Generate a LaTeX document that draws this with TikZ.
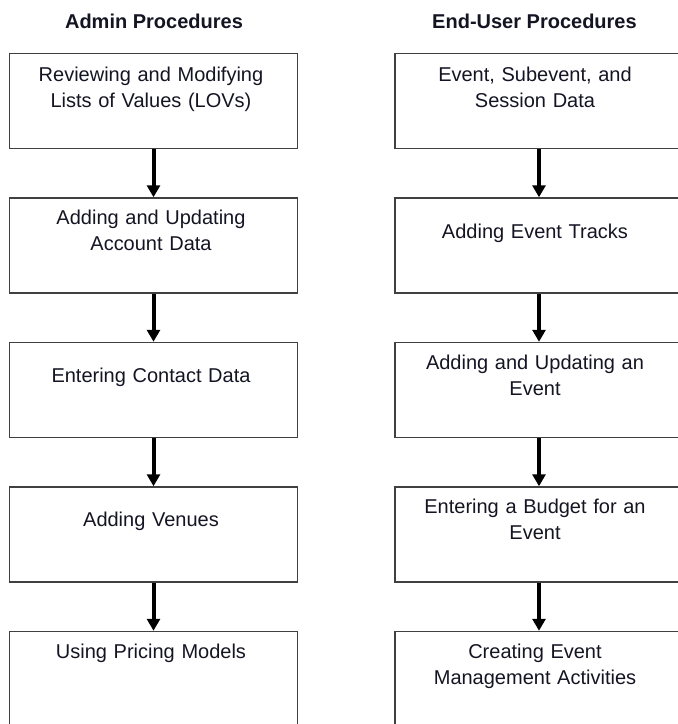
\documentclass[tikz,border=0pt]{standalone}
\usepackage{fontspec}
\setmainfont{Liberation Sans}
\usetikzlibrary{arrows.meta}
\definecolor{box_gray}{RGB}{64,64,64}
\definecolor{text_dark}{RGB}{20,20,35}

\begin{document}
\begin{tikzpicture}[x=1pt,y=-1pt,>={Triangle[length=12pt,width=13pt]}]
    \tikzstyle{box}=[draw=box_gray, line width=1.5pt, rectangle, minimum width=288pt, minimum height=95pt, inner sep=0pt]
    \tikzstyle{txt}=[anchor=base, text width=284pt, align=center, inner sep=0pt, text=text_dark, font=\fontsize{20}{26}\selectfont]
    \tikzstyle{head}=[anchor=base, inner sep=0pt, text=text_dark, font=\fontsize{20}{26}\selectfont\bfseries]
    \tikzstyle{flow}=[->, line width=4pt, black]

    \useasboundingbox (0,0) rectangle (678,724);

    % headings
    \node[head] (hadm) at (154,28)   {Admin Procedures};
    \node[head] (husr) at (534.5,28) {End-User Procedures};

    % admin column
    \node[box] (a1) at (153.5,101)   {};
    \node[box] (a2) at (153.5,245.5) {};
    \node[box] (a3) at (153.5,390)   {};
    \node[box] (a4) at (153.5,534.5) {};
    \node[box] (a5) at (153.5,679)   {};
    \node[txt] (a1t) at ([xshift=-2.5pt,yshift=-28.5pt]a1.north) {Reviewing and Modifying\\Lists of Values (LOVs)};
    \node[txt] (a2t) at ([xshift=-2.5pt,yshift=-27.5pt]a2.north) {Adding and Updating\\Account Data};
    \node[txt] (a3t) at ([xshift=-2.5pt,yshift=-41pt]a3.north)   {Entering Contact Data};
    \node[txt] (a4t) at ([xshift=-2.5pt,yshift=-40.5pt]a4.north) {Adding Venues};
    \node[txt] (a5t) at ([xshift=-2.5pt,yshift=-28pt]a5.north)   {Using Pricing Models};

    % end-user column
    \node[box] (e1) at (539,101)   {};
    \node[box] (e2) at (539,245.5) {};
    \node[box] (e3) at (539,390)   {};
    \node[box] (e4) at (539,534.5) {};
    \node[box] (e5) at (539,679)   {};
    \node[txt] (e1t) at ([xshift=-4pt,yshift=-28.5pt]e1.north) {Event, Subevent, and\\Session Data};
    \node[txt] (e2t) at ([xshift=-4pt,yshift=-41.5pt]e2.north) {Adding Event Tracks};
    \node[txt] (e3t) at ([xshift=-4pt,yshift=-28pt]e3.north)   {Adding and Updating an\\Event};
    \node[txt] (e4t) at ([xshift=-4pt,yshift=-27.5pt]e4.north) {Entering a Budget for an\\Event};
    \node[txt] (e5t) at ([xshift=-4pt,yshift=-28pt]e5.north)   {Creating Event\\Management Activities};

    \path
     (a1) edge[flow] (a2)
     (a2) edge[flow] (a3)
     (a3) edge[flow] (a4)
     (a4) edge[flow] (a5)
     (e1) edge[flow] (e2)
     (e2) edge[flow] (e3)
     (e3) edge[flow] (e4)
     (e4) edge[flow] (e5)
     ;
\end{tikzpicture}
\end{document}
